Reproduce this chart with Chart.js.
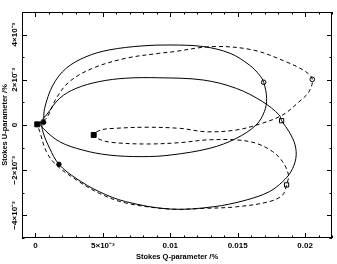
<!DOCTYPE html>
<html>
<head>
<meta charset="utf-8">
<script src="https://cdn.jsdelivr.net/npm/chart.js@4"></script>
<style>
  html, body { margin: 0; padding: 0; background: #fff; }
</style>
</head>
<body>
<canvas id="chart" width="337" height="264"></canvas>
<script>
// values in units of 10^-3 (%)
const solidQ = [0.61, 0.68, 1.30, 2.28, 3.75, 5.46, 7.92, 10.0, 12.44, 14.45, 15.88, 16.62, 16.93, 17.15, 16.98, 16.37, 14.9, 12.94, 10.0, 7.92, 5.46, 3.51, 1.79, 0.57, 0.35, 0.81, 1.79, 3.01, 4.73, 6.69, 9.14, 12.45, 14.9, 16.86, 18.09, 18.26, 18.82, 19.26, 19.32, 18.95, 18.33, 17.35, 15.64, 13.18, 10.0, 6.69, 4.73, 3.01, 1.74, 1.05, 0.55, 0.45];
const solidU = [0.12, 0.74, 1.77, 2.51, 3.02, 3.32, 3.50, 3.54, 3.47, 3.17, 2.65, 2.21, 1.89, 1.18, 0.59, 0.0, -0.59, -1.03, -1.33, -1.40, -1.33, -1.11, -0.74, -0.15, 0.10, 0.44, 1.18, 1.62, 1.92, 2.07, 2.09, 1.99, 1.62, 1.03, 0.44, 0.19, -0.30, -0.88, -1.47, -2.07, -2.51, -2.95, -3.32, -3.62, -3.72, -3.39, -2.95, -2.36, -1.74, -1.03, -0.30, 0.10];

const dashedQ = [0.13, 0.81, 1.54, 2.52, 4.24, 6.69, 9.14, 10.2, 13.18, 16.12, 18.58, 20.05, 20.54, 20.29, 19.56, 18.33, 16.62, 14.9, 12.7, 10.74, 8.29, 5.83, 4.85, 4.32, 4.85, 5.83, 8.29, 10.74, 12.7, 14.9, 16.38, 17.6, 18.33, 18.77, 18.63, 18.33, 17.35, 14.9, 12.45, 10.0, 6.69, 4.73, 3.01, 1.54, 0.81, 0.32, 0.13];
const dashedU = [0.03, 0.30, 1.18, 1.92, 2.51, 2.95, 3.17, 3.24, 3.47, 3.32, 2.80, 2.36, 2.02, 1.47, 1.03, 0.44, 0.04, -0.22, -0.30, -0.15, -0.10, -0.15, -0.22, -0.44, -0.66, -0.78, -0.84, -0.78, -0.66, -0.66, -0.81, -1.18, -1.62, -2.21, -2.65, -3.10, -3.39, -3.62, -3.69, -3.72, -3.45, -3.02, -2.42, -1.77, -1.18, -0.30, 0.03];

// marker positions
const filledSquareQ = [0.13, 4.32];
const filledSquareU = [0.03, -0.44];
const filledCircleQ = [0.61, 1.74];
const filledCircleU = [0.12, -1.74];
const openCircleQ = [16.93, 20.54];
const openCircleU = [1.89, 2.02];
const openSquareQ = [18.26];
const openSquareU = [0.19];
const crossSquareQ = [18.63];
const crossSquareU = [-2.65];

// axes
const qTicks = [0, 5, 10, 15, 20];
const qTickLabels = ['0', '5×10⁻³', '0.01', '0.015', '0.02'];
const uTicks = [-4, -2, 0, 2, 4];
const uTickLabels = ['−4×10⁻³', '−2×10⁻³', '0', '2×10⁻³', '4×10⁻³'];

const tickFont = { family: 'Liberation Sans', size: 8, weight: 'bold' };
const titleFont = { family: 'Liberation Sans', size: 7.5, weight: 'bold' };

function pts(xs, ys) {
    return xs.map((x, i) => ({ x: x, y: ys[i] }));
}

function markerSet(xs, ys, style, r, fill) {
    return {
        data: pts(xs, ys),
        showLine: false,
        pointStyle: style,
        pointRadius: r,
        pointBorderWidth: 1,
        pointBorderColor: '#000',
        pointBackgroundColor: fill ? '#000' : '#fff'
    };
}

// frame with inward ticks on all sides, plus rotated U labels
const framePlugin = {
    id: 'frame',
    afterDraw(chart) {
        const ctx = chart.ctx;
        const a = chart.chartArea;
        const x = chart.scales.x;
        const y = chart.scales.y;
        ctx.save();
        ctx.strokeStyle = '#000';
        ctx.lineWidth = 1;
        ctx.strokeRect(a.left + 0.5, a.top + 0.5, a.right - a.left - 1, a.bottom - a.top - 1);

        ctx.beginPath();
        for (let v = Math.ceil(x.min); v <= x.max; v++) {
            const px = Math.round(x.getPixelForValue(v)) + 0.5;
            const len = v % 5 === 0 ? 5 : 2.5;
            ctx.moveTo(px, a.bottom); ctx.lineTo(px, a.bottom - len);
            ctx.moveTo(px, a.top); ctx.lineTo(px, a.top + len);
        }
        for (let v = Math.ceil(y.min); v <= y.max; v++) {
            const py = Math.round(y.getPixelForValue(v)) + 0.5;
            const len = v % 2 === 0 ? 5 : 2.5;
            ctx.moveTo(a.left, py); ctx.lineTo(a.left + len, py);
            ctx.moveTo(a.right, py); ctx.lineTo(a.right - len, py);
        }
        ctx.stroke();

        ctx.fillStyle = '#000';
        ctx.font = 'bold 8px "Liberation Sans"';
        ctx.textAlign = 'center';
        ctx.textBaseline = 'middle';
        uTicks.forEach((v, i) => {
            ctx.save();
            ctx.translate(15, y.getPixelForValue(v));
            ctx.rotate(-Math.PI / 2);
            ctx.fillText(uTickLabels[i], 0, 0);
            ctx.restore();
        });
        ctx.restore();
    }
};

new Chart(document.getElementById('chart'), {
    type: 'scatter',
    data: {
        datasets: [
            {
                data: pts(solidQ, solidU),
                showLine: true,
                borderColor: '#000',
                borderWidth: 1,
                pointRadius: 0,
                tension: 0.35
            },
            {
                data: pts(dashedQ, dashedU),
                showLine: true,
                borderColor: '#000',
                borderWidth: 1,
                borderDash: [4, 3],
                pointRadius: 0,
                tension: 0.35
            },
            markerSet(filledSquareQ, filledSquareU, 'rect', 3.5, true),
            markerSet(filledCircleQ, filledCircleU, 'circle', 2.2, true),
            markerSet(openCircleQ, openCircleU, 'circle', 2.3, false),
            markerSet(openCircleQ, openCircleU, 'line', 1.6, false),
            markerSet(openSquareQ, openSquareU, 'rect', 3, false),
            markerSet(crossSquareQ, crossSquareU, 'rect', 3, false),
            markerSet(crossSquareQ, crossSquareU, 'crossRot', 3, false)
        ]
    },
    options: {
        responsive: false,
        animation: false,
        layout: { padding: { top: 12, right: 4, left: 0, bottom: 0 } },
        plugins: {
            legend: { display: false },
            tooltip: { enabled: false }
        },
        scales: {
            x: {
                type: 'linear',
                min: -1,
                max: 22,
                grid: { display: false, drawTicks: false },
                border: { display: false },
                afterBuildTicks: s => { s.ticks = qTicks.map(v => ({ value: v })); },
                afterFit: s => { s.height = 26; },
                ticks: {
                    padding: 3,
                    color: '#000',
                    font: tickFont,
                    maxRotation: 0,
                    autoSkip: false,
                    callback: (v, i) => qTickLabels[i]
                },
                title: {
                    display: true,
                    text: 'Stokes Q-parameter /%',
                    color: '#000',
                    font: titleFont,
                    padding: { top: 0, bottom: 3 }
                }
            },
            y: {
                type: 'linear',
                min: -5,
                max: 5,
                grid: { display: false, drawTicks: false },
                border: { display: false },
                ticks: { display: false },
                afterFit: s => { s.width = 22; },
                title: {
                    display: true,
                    text: 'Stokes U-parameter /%',
                    color: '#000',
                    font: titleFont,
                    padding: { top: 0.5, bottom: 0 }
                }
            }
        }
    },
    plugins: [framePlugin]
});
</script>
</body>
</html>
